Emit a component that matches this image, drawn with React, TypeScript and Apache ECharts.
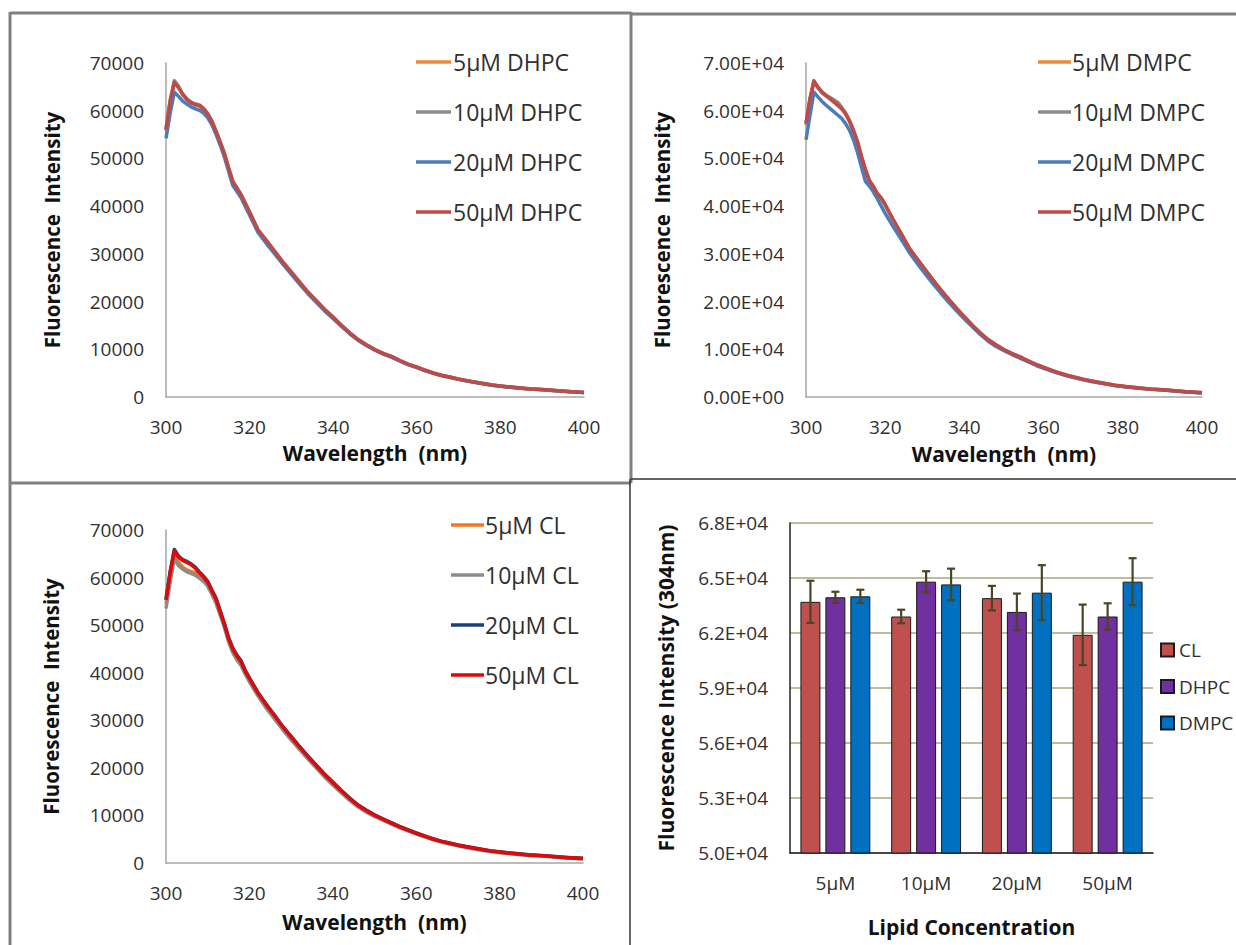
import React, { useEffect, useRef } from "react";
import * as echarts from "echarts";

// Wavelength sampling (nm), shared by all spectra
const WL = [300,301,302,303,304,305,306,307,308,309,310,311,312,313,314,315,316,317,318,319,320,322,324,326,328,330,332,334,336,338,340,342,344,346,348,350,352,354,356,358,360,362,364,366,368,370,372,375,378,381,384,387,390,393,396,400];

// Panel A: DHPC
const DHPC_5 = [55800,61800,65900,64800,63300,62300,61600,61200,61000,60300,59200,57600,55500,53200,50800,47800,45000,43600,42200,40400,38600,34900,32700,30400,28100,26000,23900,21850,20050,18250,16650,14950,13350,11950,10850,9850,9050,8400,7550,6800,6200,5580,4980,4480,4130,3730,3380,2930,2480,2180,1930,1690,1540,1340,1140,940];
const DHPC_10 = [56200,62200,66300,65100,63500,62500,61800,61400,61200,60500,59400,57800,55700,53400,51000,48000,45200,43800,42400,40600,38800,35100,32900,30600,28300,26200,24100,22000,20150,18350,16750,15050,13450,12050,10950,9950,9150,8500,7650,6900,6300,5650,5050,4550,4180,3780,3420,2970,2520,2220,1970,1720,1560,1360,1160,960];
const DHPC_20 = [54200,59500,63900,63000,62000,61400,60800,60400,60100,59500,58500,57000,55000,52700,50200,47200,44300,43000,41700,39900,38100,34500,32200,30000,27800,25700,23600,21600,19800,18000,16400,14800,13200,11850,10750,9800,9000,8300,7500,6750,6150,5500,4950,4450,4100,3700,3350,2900,2450,2150,1900,1680,1520,1320,1130,930];
const DHPC_50 = [56000,62000,66000,64900,63400,62400,61700,61300,61100,60400,59300,57700,55600,53300,50900,47900,45100,43700,42300,40500,38700,35000,32800,30500,28200,26100,24000,21900,20100,18300,16700,15000,13400,12000,10900,9900,9100,8450,7600,6850,6250,5600,5000,4500,4150,3750,3400,2950,2500,2200,1950,1700,1550,1350,1150,950];

// Panel B: DMPC
const DMPC_5 = [57200,62300,66100,64800,63800,63100,62500,61800,61100,60400,59300,57700,55700,53400,50300,47500,45200,44000,42500,41600,40200,37100,34200,31200,28900,26700,24500,22400,20400,18500,16700,15000,13400,12000,10900,9900,9100,8400,7600,6850,6200,5600,5000,4500,4100,3700,3350,2900,2450,2150,1900,1650,1500,1300,1100,900];
const DMPC_10 = [57000,62400,66300,65000,64000,63300,62800,62300,61800,60700,59500,57900,55900,53500,50500,47700,45400,44200,42700,41700,40300,37200,34300,31300,29000,26800,24600,22500,20500,18600,16800,15100,13450,12050,10950,9950,9150,8450,7650,6900,6250,5650,5050,4550,4150,3750,3380,2930,2480,2170,1920,1670,1520,1320,1120,920];
const DMPC_20 = [53900,59000,63900,62900,62000,61200,60500,59800,59100,58400,57300,55900,53900,51300,48200,45200,44200,43000,41600,40000,38500,35700,33100,30400,28100,25900,23800,21800,19900,18050,16350,14700,13100,11700,10600,9700,8900,8150,7400,6650,6000,5450,4900,4400,4000,3600,3250,2800,2380,2080,1850,1600,1450,1250,1050,850];
const DMPC_50 = [57400,62500,66200,64900,63900,63200,62600,61900,61200,60500,59400,57800,55800,53500,50400,47600,45300,44100,42600,41700,40300,37200,34300,31300,29000,26800,24600,22500,20500,18600,16800,15000,13400,12000,10900,9900,9100,8400,7600,6850,6200,5600,5000,4500,4100,3700,3350,2900,2450,2150,1900,1650,1500,1300,1100,900];

// Panel C: CL
const CL_5 = [54500,60000,64800,63200,62200,61600,61300,61000,60600,60000,58900,57000,55200,52600,50000,47000,44800,43300,42100,40200,38600,35600,33000,30700,28400,26300,24200,22200,20300,18400,16700,15000,13400,12000,10900,9950,9150,8350,7550,6850,6200,5600,5000,4500,4100,3700,3350,2900,2450,2150,1900,1650,1500,1300,1100,900];
const CL_10 = [53500,59000,64000,62500,61800,61200,60900,60500,59900,59200,58200,56500,54600,52100,49500,46500,44200,42700,41500,39700,38100,35200,32600,30300,28000,25900,23900,21900,20000,18100,16400,14800,13200,11800,10700,9800,9000,8200,7450,6750,6100,5500,4900,4400,4000,3600,3250,2800,2380,2080,1850,1600,1450,1250,1050,850];
const CL_20 = [55500,61300,65900,64500,63800,63400,62900,62200,61200,60300,59200,57400,55700,53000,50400,47400,45200,43700,42500,40500,38900,35900,33400,31100,28700,26600,24500,22500,20600,18700,17000,15300,13700,12250,11150,10150,9300,8500,7700,7000,6350,5700,5100,4600,4200,3800,3450,3000,2550,2250,2000,1750,1580,1380,1180,980];
const CL_50 = [55300,61000,65600,64300,63600,63200,62700,62000,61000,60100,59000,57200,55500,52800,50200,47200,45000,43500,42300,40300,38800,35800,33300,31000,28600,26500,24400,22400,20500,18600,16900,15200,13600,12150,11050,10050,9200,8400,7600,6900,6250,5650,5050,4550,4150,3750,3400,2950,2500,2200,1950,1700,1550,1350,1150,950];

// Panel D: bars at 304 nm
const CONC = ["5\u00b5M", "10\u00b5M", "20\u00b5M", "50\u00b5M"];
const BAR_CL = [63700, 62900, 63900, 61900];
const BAR_DHPC = [63950, 64800, 63150, 62900];
const BAR_DMPC = [64000, 64650, 64200, 64800];
const ERR_CL = [1150, 370, 670, 1650];
const ERR_DHPC = [300, 570, 1000, 720];
const ERR_DMPC = [360, 860, 1500, 1280];

const FONT = "'Open Sans', 'Noto Sans', sans-serif";
const TICK = { fontFamily: FONT, fontSize: 19, color: "#303030" };
const XTITLE = { fontFamily: FONT, fontSize: 21, fontWeight: "bold" as const, color: "#111" };
const YTITLE = { fontFamily: FONT, fontSize: 20.5, fontWeight: "bold" as const, color: "#111" };

function lineSeries(name: string, vals: number[], color: string, idx: number, z: number) {
  return {
    type: "line",
    name,
    xAxisIndex: idx,
    yAxisIndex: idx,
    data: WL.map((w, k) => [w, vals[k]]),
    symbol: "none",
    z,
    lineStyle: { color, width: 3.5, join: "round" },
    itemStyle: { color },
  };
}

function lineXAxis(idx: number, gap: number) {
  return {
    type: "value",
    gridIndex: idx,
    min: 300,
    max: 400,
    interval: 20,
    name: "Wavelength  (nm)",
    nameLocation: "middle",
    nameGap: gap,
    nameTextStyle: XTITLE,
    axisLine: { show: true, lineStyle: { color: "#A6A6A6", width: 1.5 } },
    axisTick: { show: false },
    splitLine: { show: false },
    axisLabel: { ...TICK, margin: 20, formatter: (v: number) => String(v) },
  };
}

function lineYAxis(idx: number, gap: number, fmt: (v: number) => string) {
  return {
    type: "value",
    gridIndex: idx,
    min: 0,
    max: 70000,
    interval: 10000,
    name: "Fluorescence  Intensity",
    nameLocation: "middle",
    nameGap: gap,
    nameTextStyle: YTITLE,
    axisLine: { show: true, lineStyle: { color: "#A6A6A6", width: 1.5 } },
    axisTick: { show: false },
    splitLine: { show: false },
    axisLabel: { ...TICK, margin: 22, formatter: fmt },
  };
}

function lineLegend(names: string[], left: number, top: number, iconW: number, shift: number) {
  return {
    data: names,
    orient: "vertical",
    left,
    top,
    padding: 0,
    icon: "rect",
    itemWidth: iconW,
    itemHeight: 3.5,
    itemGap: 24,
    textStyle: { fontFamily: FONT, fontSize: 23, color: "#303030", lineHeight: 26, padding: [0, 0, 0, shift] },
  };
}

export default function App() {
  const ref = useRef<HTMLDivElement>(null);
  useEffect(() => {
    if (!ref.current) return;
    const chart = echarts.init(ref.current, undefined, { renderer: "svg" });

    const errData: any[] = [];
    [ERR_CL, ERR_DHPC, ERR_DMPC].forEach((errs, s) => {
      const vals = [BAR_CL, BAR_DHPC, BAR_DMPC][s];
      errs.forEach((e, i) => errData.push([i, vals[i] - e, vals[i] + e, s]));
    });

    const catGap = 0.23;
    const barGapRatio = 0.25;

    const gray = "#808080";
    const dark = "#333";
    const plain = (v: number) => String(v);

    chart.setOption({
      animation: false,
      backgroundColor: "#fff",
      grid: [
        { left: 166, top: 63, width: 418, height: 334 },
        { left: 806, top: 63, width: 396, height: 334 },
        { left: 166, top: 530, width: 417, height: 333 },
        { left: 790, top: 523, width: 363, height: 330 },
      ],
      xAxis: [
        lineXAxis(0, 45),
        lineXAxis(1, 46),
        lineXAxis(2, 48),
        {
          type: "category",
          gridIndex: 3,
          data: CONC,
          name: "Lipid Concentration",
          nameLocation: "middle",
          nameGap: 63,
          nameTextStyle: XTITLE,
          axisLine: { show: true, lineStyle: { color: "#222", width: 1.5 } },
          axisTick: { show: false },
          axisLabel: { ...TICK, margin: 20 },
        },
      ],
      yAxis: [
        lineYAxis(0, 104, plain),
        lineYAxis(1, 134, (v: number) => (v === 0 ? "0.00E+00" : (v / 10000).toFixed(2) + "E+04")),
        lineYAxis(2, 105, plain),
        {
          type: "value",
          gridIndex: 3,
          min: 50000,
          max: 68000,
          interval: 3000,
          name: "Fluorescence Intensity (304nm)",
          nameLocation: "middle",
          nameGap: 114,
          nameTextStyle: { ...YTITLE, fontSize: 21 },
          axisLine: { show: true, lineStyle: { color: "#222", width: 1.5 } },
          axisTick: { show: false },
          splitLine: { show: true, lineStyle: { color: "#ADA57C", width: 1.5 } },
          axisLabel: { ...TICK, margin: 22, formatter: (v: number) => (v / 10000).toFixed(1) + "E+04" },
        },
      ],
      legend: [
        lineLegend(["5\u00b5M DHPC", "10\u00b5M DHPC", "20\u00b5M DHPC", "50\u00b5M DHPC"], 416, 49, 35, -3),
        lineLegend(["5\u00b5M DMPC", "10\u00b5M DMPC", "20\u00b5M DMPC", "50\u00b5M DMPC"], 1038, 49, 33, -4),
        lineLegend(["5\u00b5M CL", "10\u00b5M CL", "20\u00b5M CL", "50\u00b5M CL"], 451, 512, 33, -4),
        {
          data: ["CL", "DHPC", "DMPC"],
          orient: "vertical",
          left: 1160,
          top: 639,
          padding: 0,
          icon: "rect",
          itemWidth: 13,
          itemHeight: 13,
          itemGap: 14.5,
          textStyle: { fontFamily: FONT, fontSize: 19, color: "#303030", lineHeight: 22 },
        },
      ],
      series: [
        lineSeries("5\u00b5M DHPC", DHPC_5, "#F0883C", 0, 2),
        lineSeries("10\u00b5M DHPC", DHPC_10, "#8C8C8C", 0, 3),
        lineSeries("20\u00b5M DHPC", DHPC_20, "#4A7EBB", 0, 4),
        lineSeries("50\u00b5M DHPC", DHPC_50, "#BE4B48", 0, 5),
        lineSeries("5\u00b5M DMPC", DMPC_5, "#F0883C", 1, 2),
        lineSeries("10\u00b5M DMPC", DMPC_10, "#8C8C8C", 1, 3),
        lineSeries("20\u00b5M DMPC", DMPC_20, "#4A7EBB", 1, 4),
        lineSeries("50\u00b5M DMPC", DMPC_50, "#BE4B48", 1, 5),
        lineSeries("5\u00b5M CL", CL_5, "#EE7A22", 2, 2),
        lineSeries("10\u00b5M CL", CL_10, "#8C8C8C", 2, 3),
        lineSeries("20\u00b5M CL", CL_20, "#1F3F7A", 2, 4),
        lineSeries("50\u00b5M CL", CL_50, "#DD0A0A", 2, 5),
        ...[
          ["CL", BAR_CL, "#C0504D"],
          ["DHPC", BAR_DHPC, "#7030A0"],
          ["DMPC", BAR_DMPC, "#0070C0"],
        ].map(([name, vals, color]) => ({
          type: "bar",
          name,
          xAxisIndex: 3,
          yAxisIndex: 3,
          data: vals,
          barGap: barGapRatio * 100 + "%",
          barCategoryGap: catGap * 100 + "%",
          itemStyle: { color, borderColor: "#1a1a1a", borderWidth: 1 },
        })),
        {
          type: "custom",
          name: "err",
          xAxisIndex: 3,
          yAxisIndex: 3,
          z: 10,
          data: errData,
          renderItem: (params: any, api: any) => {
            const idx = api.value(0);
            const lo = api.value(1);
            const hi = api.value(2);
            const s = api.value(3);
            const band = api.size([1, 0])[0];
            const bw = (band * (1 - catGap)) / (3 + 2 * barGapRatio);
            const off = (s - 1) * bw * (1 + barGapRatio);
            const pHi = api.coord([idx, hi]);
            const pLo = api.coord([idx, lo]);
            const x = pHi[0] + off;
            const c = 4;
            const st = { stroke: "#4A4526", lineWidth: 2.2 };
            return {
              type: "group",
              children: [
                { type: "line", shape: { x1: x, y1: pHi[1], x2: x, y2: pLo[1] }, style: st },
                { type: "line", shape: { x1: x - c, y1: pHi[1], x2: x + c, y2: pHi[1] }, style: st },
                { type: "line", shape: { x1: x - c, y1: pLo[1], x2: x + c, y2: pLo[1] }, style: st },
              ],
            };
          },
        },
      ],
      graphic: [
        { type: "line", shape: { x1: 10, y1: 13, x2: 631, y2: 13 }, style: { stroke: gray, lineWidth: 3 } },
        { type: "line", shape: { x1: 10, y1: 12, x2: 10, y2: 945 }, style: { stroke: gray, lineWidth: 3 } },
        { type: "line", shape: { x1: 631, y1: 12, x2: 631, y2: 483 }, style: { stroke: gray, lineWidth: 3 } },
        { type: "line", shape: { x1: 10, y1: 483, x2: 631, y2: 483 }, style: { stroke: gray, lineWidth: 3 } },
        { type: "line", shape: { x1: 631, y1: 14, x2: 1236, y2: 14 }, style: { stroke: gray, lineWidth: 3 } },
        { type: "line", shape: { x1: 631, y1: 479, x2: 1236, y2: 479 }, style: { stroke: dark, lineWidth: 1.5 } },
        { type: "line", shape: { x1: 630, y1: 479, x2: 630, y2: 945 }, style: { stroke: dark, lineWidth: 1.5 } },
      ],
    });
    return () => chart.dispose();
  }, []);
  return <div ref={ref} style={{ position: "fixed", left: 0, top: 0, width: 1236, height: 945 }} />;
}
